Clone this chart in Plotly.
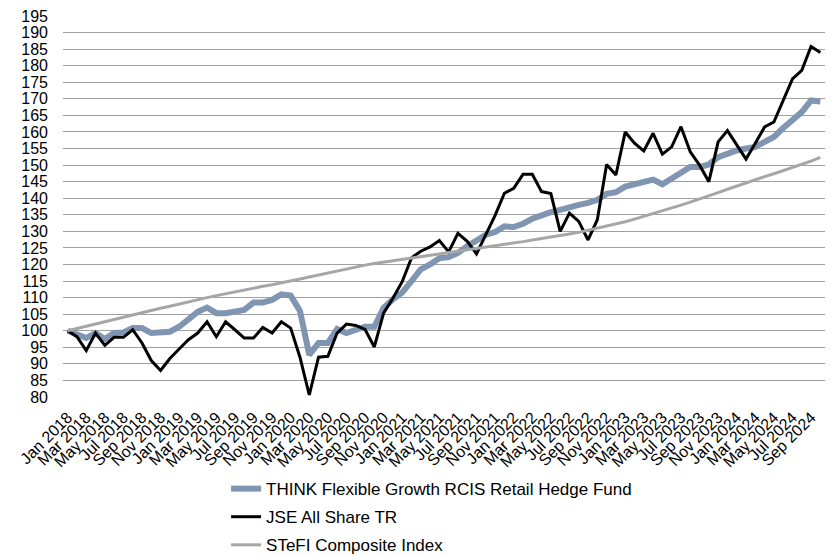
import plotly.graph_objects as go

month_names = ["Jan", "Feb", "Mar", "Apr", "May", "Jun",
               "Jul", "Aug", "Sep", "Oct", "Nov", "Dec"]
months = []
for yr in range(2018, 2025):
    for m in month_names:
        months.append(f"{m} {yr}")
months = months[:82]  # Jan 2018 .. Oct 2024

tick_labels = months[::2]  # Jan 2018, Mar 2018, ... Sep 2024

think_fund = [
    100.0, 98.8, 97.8, 99.3, 97.5, 99.3, 99.5, 100.8, 100.8, 99.3,
    99.5, 99.7, 101.2, 103.2, 105.7, 107.0, 105.3, 105.3, 105.7, 106.3,
    108.5, 108.5, 109.3, 111.0, 110.6, 106.0, 92.7, 96.3, 96.3, 100.5,
    99.3, 100.3, 101.2, 101.2, 106.9, 109.5, 111.5, 115.0, 118.5, 120.0,
    121.9, 122.2, 123.5, 125.5, 127.0, 129.0, 129.8, 131.5, 131.3, 132.3,
    133.8, 135.0, 135.8, 136.5, 137.4, 138.0, 138.6, 139.5, 141.3, 141.8,
    143.5, 144.3, 144.7, 145.6, 144.2, 146.1, 147.8, 149.4, 149.4, 150.2,
    152.4, 153.6, 154.4, 155.0, 155.5, 157.0, 158.5, 161.2, 163.6, 166.0,
    169.5, 169.2,
]

jse_all_share = [
    100.0, 98.2, 94.0, 99.3, 95.6, 98.0, 98.0, 100.3, 96.3, 91.0,
    88.0, 91.6, 94.5, 97.3, 99.3, 102.7, 98.2, 102.7, 100.3, 97.8,
    97.8, 101.0, 99.3, 102.7, 100.8, 92.0, 80.6, 92.0, 92.3, 99.3,
    102.0, 101.6, 100.4, 95.1, 105.3, 109.8, 114.8, 122.0, 124.0, 125.3,
    127.2, 123.8, 129.4, 127.0, 123.2, 129.0, 134.8, 141.5, 143.0, 147.2,
    147.2, 142.0, 141.4, 130.0, 135.5, 133.0, 127.4, 133.5, 150.2, 147.0,
    160.0, 156.6, 154.3, 159.6, 153.3, 155.5, 161.6, 154.0, 150.0, 145.0,
    157.0, 160.4, 156.0, 151.8, 156.6, 161.5, 163.0, 169.6, 176.0, 178.6,
    185.8, 184.0,
]

stefi = [
    100.0, 100.7, 101.4, 102.0, 102.7, 103.4, 104.0, 104.7, 105.4, 106.1,
    106.8, 107.4, 108.1, 108.8, 109.4, 110.0, 110.6, 111.2, 111.8, 112.3,
    112.9, 113.4, 113.9, 114.4, 115.0, 115.6, 116.2, 116.8, 117.5, 118.2,
    118.8, 119.3, 119.8, 120.3, 120.7, 121.1, 121.5, 121.9, 122.3, 122.7,
    123.1, 123.5, 123.9, 124.4, 124.8, 125.2, 125.6, 126.1, 126.5, 126.9,
    127.4, 127.8, 128.3, 128.7, 129.2, 129.7, 130.3, 130.9, 131.5, 132.2,
    132.9, 133.7, 134.5, 135.4, 136.2, 137.1, 137.9, 138.8, 139.7, 140.7,
    141.7, 142.7, 143.7, 144.6, 145.6, 146.5, 147.4, 148.3, 149.2, 150.2,
    151.2, 152.3,
]

y_ticks = list(range(80, 200, 5))

FONT = "Liberation Sans, Arial, sans-serif"

fig = go.Figure()
fig.add_trace(go.Scatter(
    x=months, y=think_fund, mode="lines",
    name="THINK Flexible Growth RCIS Retail Hedge Fund",
    line=dict(color="#7F95B1", width=6), legendgroup="a"))
fig.add_trace(go.Scatter(
    x=months, y=jse_all_share, mode="lines",
    name="JSE All Share TR",
    line=dict(color="#000000", width=3), legendgroup="b"))
fig.add_trace(go.Scatter(
    x=months, y=stefi, mode="lines",
    name="STeFI Composite Index",
    line=dict(color="#A6A6A6", width=3), legendgroup="c"))

# page body has an 8px default margin, so the figure is 8px smaller each way
fig.update_layout(
    width=825, height=548,
    margin=dict(l=55, r=8, t=8, b=159, autoexpand=False),
    paper_bgcolor="white", plot_bgcolor="white",
    font=dict(family=FONT, color="#000000", size=15),
    showlegend=True,
    legend=dict(
        orientation="v", x=0.214, xanchor="left",
        yref="container", y=0.155, yanchor="top",
        font=dict(family=FONT, size=17, color="#000000"),
        tracegroupgap=3, bgcolor="rgba(0,0,0,0)",
    ),
    xaxis=dict(
        type="category", categoryorder="array", categoryarray=months,
        range=[-0.5, len(months) - 0.5],
        tickmode="array", tickvals=tick_labels, ticktext=tick_labels,
        tickangle=-45, showgrid=False, zeroline=False, showline=False,
        ticks="", tickfont=dict(family=FONT, size=16),
        ticklabelstandoff=7, automargin=False,
        ticklabeloverflow="allow",
    ),
    yaxis=dict(
        range=[80, 195], tickmode="array", tickvals=y_ticks,
        showgrid=True, gridcolor="#A0A0A0", gridwidth=1.3,
        zeroline=False, showline=False, ticks="",
        tickfont=dict(family=FONT, size=16),
        ticklabelstandoff=14, automargin=False,
        ticklabeloverflow="allow",
    ),
)

fig.write_html("out.html")
